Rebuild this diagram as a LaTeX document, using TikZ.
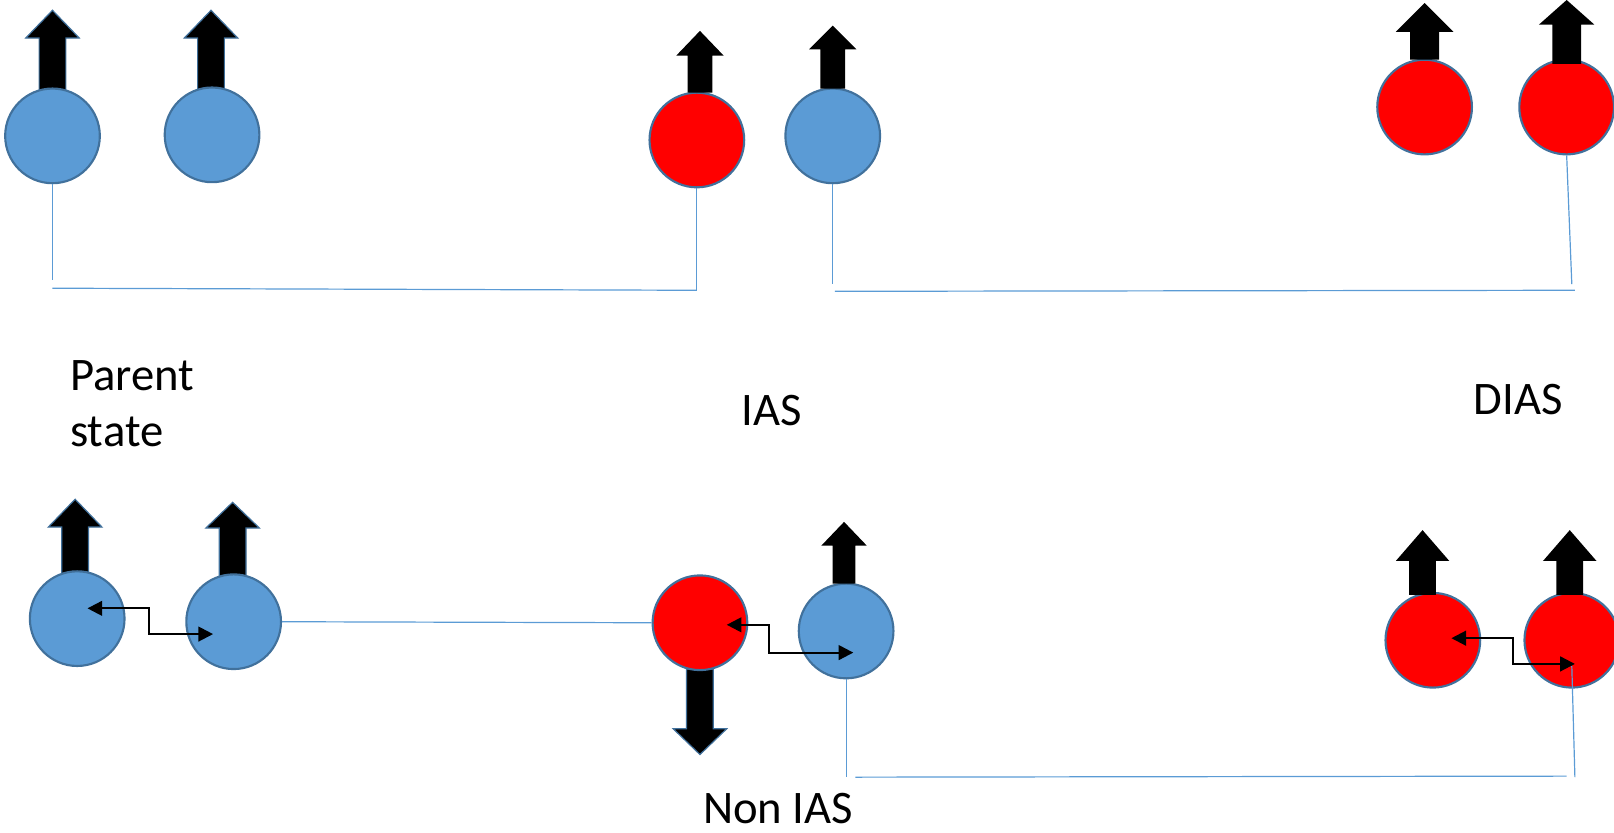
\documentclass[tikz,border=0pt]{standalone}
\usepackage{fontspec}
\setmainfont{Carlito}
\usetikzlibrary{calc,arrows.meta}
\definecolor{cblue}{HTML}{5B9BD5}
\definecolor{cedge}{HTML}{41719C}
\definecolor{cred}{HTML}{FF0000}
\tikzset{
  ball/.style={circle, draw=cedge, line width=1.6pt, minimum size=71pt, inner sep=0pt},
  bluec/.style={ball, fill=cblue},
  redc/.style={ball, fill=cred},
  link/.style={draw=cblue, line width=0.9pt},
  swaparr/.style={draw=black, line width=1.6pt, {Triangle[length=11pt,width=11pt]}-{Triangle[length=11pt,width=11pt]}},
  spinarrow/.style={fill=black, draw=cedge, line width=0.9pt},
  spinplain/.style={fill=black},
  lbl/.style={font=\fontsize{35}{42}\selectfont, align=left, inner sep=0pt}
}
% [style] x, tip y, head-base y, tail y, head half width, shaft half width
\newcommand\spinarr[7][spinarrow]{%
  \path[#1] (#2,#3) -- (#2+#6,#4) -- (#2+#7,#4) -- (#2+#7,#5) -- (#2-#7,#5) -- (#2-#7,#4) -- (#2-#6,#4) -- cycle;}
\begin{document}
\begin{tikzpicture}[x=0.772pt,y=-0.772pt]
\useasboundingbox (0,0) rectangle (1568,808.3);
% outlined spin arrows (behind the balls)
\spinarr{51}{10}{37}{90}{26}{13}
\spinarr{205}{10}{37}{88}{26}{13}
\spinarr{73}{485}{512}{559}{26}{13}
\spinarr{226}{488}{513}{562}{26}{13}
\spinarr{680}{733}{708}{650}{26}{13}
% top row
\node[bluec] (b1) at (51,132) {};
\node[bluec] (b2) at (206,131) {};
\node[redc]  (r1) at (677,136) {};
\node[bluec] (b3) at (809,132) {};
\node[redc]  (r2) at (1384,104) {};
\node[redc]  (r3) at (1522,104) {};
% bottom row
\node[bluec] (b4) at (75,601) {};
\node[bluec] (b5) at (227,604) {};
\node[redc]  (r4) at (680,605) {};
\node[bluec] (b6) at (822,613) {};
\node[redc]  (r5) at (1392,622) {};
\node[redc]  (r6) at (1527,622) {};
% plain spin arrows (over the balls)
\spinarr[spinplain]{680}{30}{54}{90}{23}{12}
\spinarr[spinplain]{809}{25}{48}{86}{23}{12}
\spinarr[spinplain]{1384}{3}{31}{58}{28}{14}
\spinarr[spinplain]{1522}{0}{24}{62}{27}{14}
\spinarr[spinplain]{820}{507}{530}{567}{22}{11}
\spinarr[spinplain]{1382}{515}{545}{578}{26}{13}
\spinarr[spinplain]{1525}{515}{545}{578}{26}{13}
% labels
\node[lbl, anchor=west] (lp) at (68,392) {Parent\\state};
\node[lbl, anchor=base] (lias) at (750,413) {IAS};
\node[lbl, anchor=base] (ldias) at (1475,403) {DIAS};
\node[lbl, anchor=base] (lnon) at (756,800) {Non IAS};
% top connectors
\coordinate (t1) at (51,272);
\coordinate (t2) at (51,280);
\coordinate (t3) at (677,282);
\coordinate (t4) at (809,276);
\coordinate (t5) at (811,283);
\coordinate (t6) at (1530,282);
\coordinate (t7) at (1527,276);
\draw[link] (b1.south) -- (t1);
\draw[link] (t2) -- (t3);
\draw[link] (r1.south) -- (t3);
\draw[link] (b3.south) -- (t4);
\draw[link] (t5) -- (t6);
\draw[link] (r3.south) -- (t7);
% bottom connectors
\draw[link] (b5.east) -- (r4.west);
\coordinate (u1) at (822,755);
\coordinate (u2) at (831,755);
\coordinate (u3) at (1522,754);
\coordinate (u4) at (1530,755);
\coordinate (u5) at (1527,647);
\draw[link] (b6.south) -- (u1);
\draw[link] (u2) -- (u3);
\draw[link] (u5) -- (u4);
% exchange arrows
\coordinate (e1) at (85,591);
\coordinate (e2) at (207,616);
\coordinate (e3) at (706,607);
\coordinate (e4) at (829,634);
\coordinate (e5) at (1410,620);
\coordinate (e6) at (1530,645);
\draw[swaparr] (e1) -- (145,591) -- (145,616) -- (e2);
\draw[swaparr] (e3) -- (747,607) -- (747,634) -- (e4);
\draw[swaparr] (e5) -- (1470,620) -- (1470,645) -- (e6);
\end{tikzpicture}
\end{document}
